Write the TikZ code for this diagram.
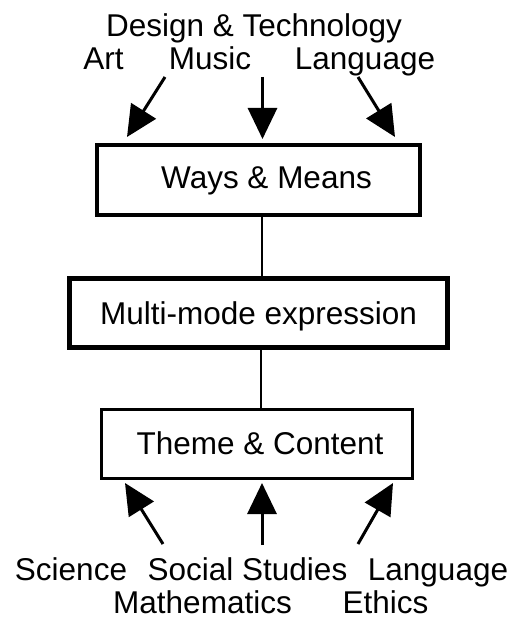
\documentclass[tikz,border=0pt]{standalone}
\usepackage{fontspec}
\setmainfont{Liberation Sans}
\usetikzlibrary{arrows.meta}
\begin{document}
\begin{tikzpicture}[x=1bp,y=-1bp,
  lbl/.style={anchor=base,inner sep=0pt,font=\fontsize{31.5bp}{36bp}\selectfont},
  box/.style={draw,line width=3.2bp,inner sep=0pt,font=\fontsize{31.5bp}{36bp}\selectfont},
  arr/.style={line width=3bp,-{Triangle[length=31bp,width=29bp]}},
  link/.style={line width=2.6bp}]
\useasboundingbox (0,0) rectangle (513,622);

% top labels
\node[lbl] (design) at (254,37) {Design \& Technology};
\node[lbl] (art) at (103.5,70) {Art};
\node[lbl] (music) at (210,70) {Music};
\node[lbl] (langtop) at (365,70) {Language};

% boxes
\node[box,minimum width=323bp,minimum height=70bp,text height=23bp,text depth=7bp] (ways) at (258.5,180) {\hspace*{16bp}Ways \& Means};
\node[box,line width=5bp,minimum width=378bp,minimum height=69bp,text height=23bp,text depth=0bp] (multi) at (258.5,313) {Multi-mode expression};
\node[box,minimum width=311bp,minimum height=69bp,text height=23bp,text depth=3bp] (theme) at (257,444) {\hspace*{6bp}Theme \& Content};

% bottom labels
\node[lbl] (science) at (71,580) {Science};
\node[lbl] (social) at (247.5,580) {Social Studies};
\node[lbl] (langbot) at (438,580) {Language};
\node[lbl] (math) at (202.5,613) {Mathematics};
\node[lbl] (ethics) at (385.5,613) {Ethics};

% arrow end points
\coordinate (artT) at (165,77);
\coordinate (artH) at (127,137);
\coordinate (musT) at (262.5,77);
\coordinate (musH) at (262.5,139);
\coordinate (lanT) at (358,77);
\coordinate (lanH) at (395,137);
\coordinate (sciT) at (163,544);
\coordinate (sciH) at (125,483);
\coordinate (socT) at (262,545);
\coordinate (socH) at (262,483);
\coordinate (lbT) at (358,544);
\coordinate (lbH) at (393,483);
\coordinate (c1) at (262,0);
\coordinate (c2) at (261,0);

% arrows
\draw[arr] (artT) -- (artH);
\draw[arr] (musT) -- (musH);
\draw[arr] (lanT) -- (lanH);
\draw[arr] (sciT) -- (sciH);
\draw[arr] (socT) -- (socH);
\draw[arr] (lbT) -- (lbH);

% links between boxes
\draw[link] (ways.south -| c1) -- (multi.north -| c1);
\draw[link] (multi.south -| c2) -- (theme.north -| c2);
\end{tikzpicture}
\end{document}
